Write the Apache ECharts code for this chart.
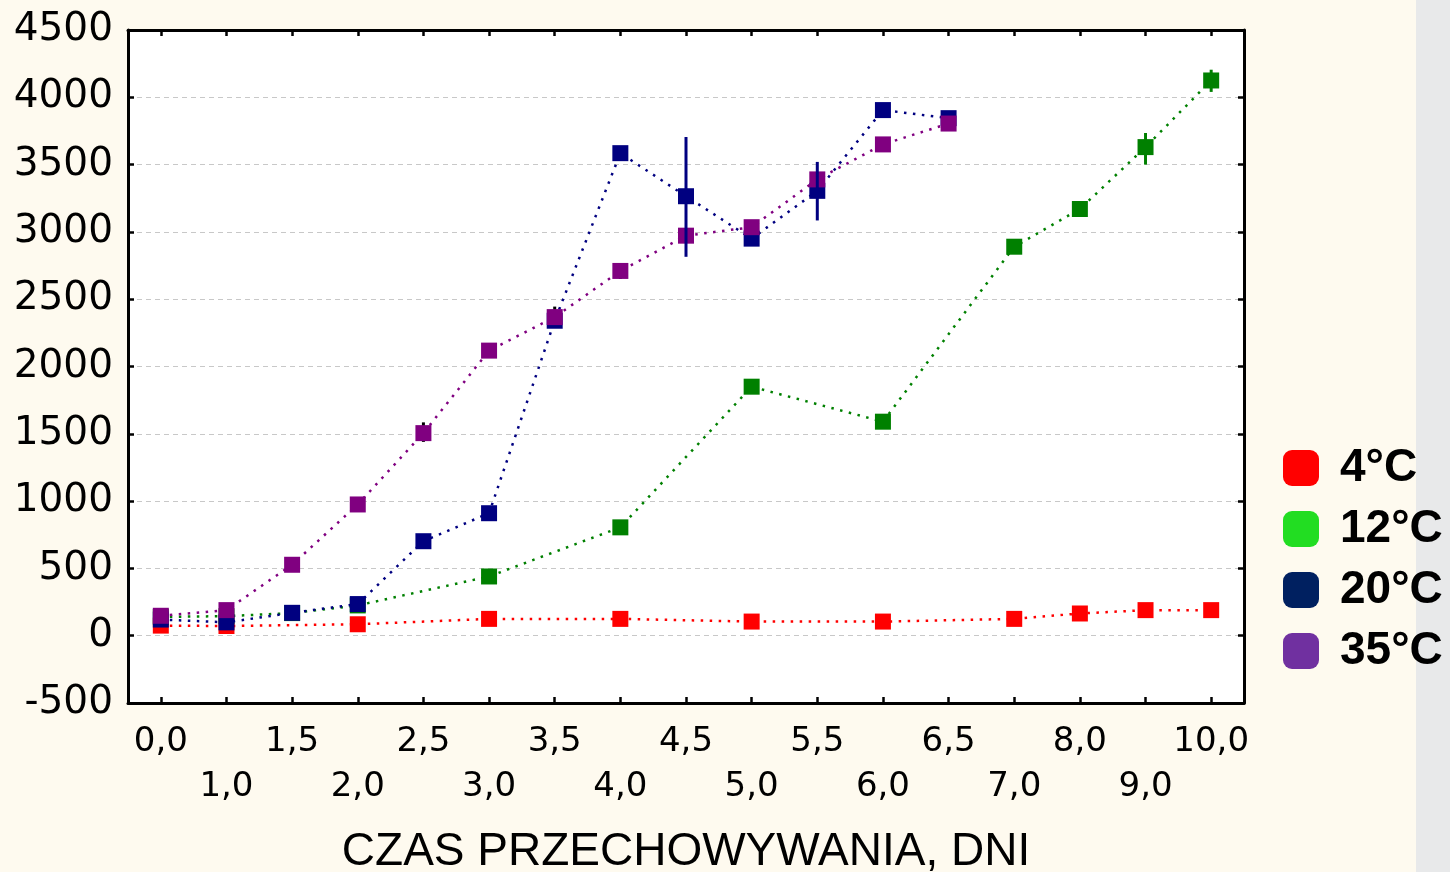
<!DOCTYPE html>
<html>
<head>
<meta charset="utf-8">
<script src="https://cdn.jsdelivr.net/npm/echarts@6/dist/echarts.min.js"></script>
<style>
html,body{margin:0;padding:0;background:#FEFAEF;}
#chart{width:1450px;height:872px;}
</style>
</head>
<body>
<div id="chart"></div>
<script>
// Categories (storage time, days)
const categories = ['0,0','1,0','1,5','2,0','2,5','3,0','3,5','4,0','4,5','5,0','5,5','6,0','6,5','7,0','8,0','9,0','10,0'];
const yTicks = [-500, 4500, 500]; // min, max, step

// Series values (null = no measurement)
const t4  = [75, 72, null, 85, null, 125, null, 125, null, 105, null, 105, null, 125, 165, 190, 190];
const t12 = [140, 145, 168, 225, null, 440, null, 805, null, 1850, null, 1590, null, 2890, 3170, 3630, 4125];
const t20 = [120, 99, 170, 235, 702, 910, 2340, 3585, 3265, 2950, 3305, 3905, 3845, null, null, null, null];
const t35 = [148, 190, 527, 975, 1505, 2118, 2367, 2710, 2972, 3035, 3390, 3650, 3805, null, null, null, null];

// Error bars: category, low, high
const err20Cat  = ['4,5', '5,5'];
const err20Low  = [2815, 3085];
const err20High = [3705, 3520];
const err12Cat  = ['9,0', '10,0'];
const err12Low  = [3500, 4040];
const err12High = [3735, 4205];
const err35Cat  = ['2,0', '2,5', '3,5', '4,0'];
const err35Low  = [930, 1440, 2290, 2650];
const err35High = [1025, 1585, 2445, 2765];

const seriesNames = ['4°C', '12°C', '20°C', '35°C'];
const lineColors = ['#FF0000', '#008000', '#000080', '#800080'];
const legendColors = ['#FF0000', '#22DD22', '#002060', '#7030A0'];

function errData(cats, lows, highs) {
  return cats.map((c, i) => [categories.indexOf(c), lows[i], highs[i]]);
}

function errSeries(cats, lows, highs, color, z) {
  return {
    type: 'custom',
    xAxisIndex: 0, yAxisIndex: 0,
    z: z,
    silent: true,
    data: errData(cats, lows, highs),
    renderItem: function (params, api) {
      const x = api.value(0);
      const p1 = api.coord([x, api.value(1)]);
      const p2 = api.coord([x, api.value(2)]);
      return {
        type: 'line',
        shape: { x1: p1[0], y1: p1[1], x2: p2[0], y2: p2[1] },
        style: { stroke: color, lineWidth: 3 }
      };
    }
  };
}

const chart = echarts.init(document.getElementById('chart'));

const values = [t4, t12, t20, t35];
const lineSeries = values.map((arr, i) => ({
  name: seriesNames[i],
  type: 'line',
  data: arr,
  connectNulls: true,
  symbol: 'rect',
  symbolSize: 16,
  z: 2 + i,
  itemStyle: { color: lineColors[i] },
  lineStyle: { color: lineColors[i], width: 2.5, type: [2.5, 6.5] }
}));

const axisLineStyle = { show: true, onZero: false, lineStyle: { color: '#000', width: 3 } };
const tickStyle = { color: '#000', width: 2.5 };

const option = {
  animation: false,
  backgroundColor: '#FEFAEF',
  graphic: [{
    type: 'rect',
    z: -100,
    shape: { x: 1416, y: 0, width: 34, height: 872 },
    style: { fill: '#E8E9EA' }
  }],
  grid: {
    left: 128, right: 206, top: 30, bottom: 169,
    containLabel: false,
    outerBoundsMode: 'none',
    show: true, backgroundColor: '#FFFFFF', borderWidth: 0
  },
  legend: {
    orient: 'vertical',
    left: 1278, top: 435,
    itemWidth: 36, itemHeight: 36, itemGap: 5,
    icon: 'roundRect',
    data: seriesNames.map((n, i) => ({ name: n, icon: 'roundRect', itemStyle: { color: legendColors[i] } })),
    textStyle: {
      fontFamily: 'Liberation Sans', fontWeight: 'bold', fontSize: 46, color: '#000',
      lineHeight: 36, padding: [20, 0, 0, 16]
    }
  },
  xAxis: [{
    type: 'category',
    data: categories,
    position: 'bottom',
    boundaryGap: true,
    axisLine: axisLineStyle,
    axisTick: { show: true, inside: true, alignWithLabel: true, length: 6, lineStyle: tickStyle },
    axisLabel: {
      interval: 0, margin: 17,
      fontFamily: 'DejaVu Sans', fontSize: 34, color: '#000', lineHeight: 45,
      formatter: function (v, i) { return i % 2 ? '\n' + v : v; }
    },
    splitLine: { show: false },
    name: 'CZAS PRZECHOWYWANIA, DNI',
    nameLocation: 'middle',
    nameGap: 126,
    nameTextStyle: { fontFamily: 'Liberation Sans', fontSize: 46, color: '#000' }
  }, {
    type: 'category',
    data: categories,
    position: 'top',
    boundaryGap: true,
    axisLine: axisLineStyle,
    axisTick: { show: true, inside: true, alignWithLabel: true, length: 6, lineStyle: tickStyle },
    axisLabel: { show: false },
    splitLine: { show: false }
  }],
  yAxis: [{
    type: 'value',
    min: yTicks[0], max: yTicks[1], interval: yTicks[2],
    position: 'left',
    axisLine: axisLineStyle,
    axisTick: { show: true, inside: true, length: 6, lineStyle: tickStyle },
    axisLabel: {
      margin: 15, fontFamily: 'DejaVu Sans', fontSize: 39, color: '#000',
      formatter: function (v) { return String(v); }
    },
    splitLine: { show: true, lineStyle: { color: '#C8C8C8', width: 1, type: [5, 4] } }
  }, {
    type: 'value',
    min: yTicks[0], max: yTicks[1], interval: yTicks[2],
    position: 'right',
    axisLine: axisLineStyle,
    axisTick: { show: true, inside: true, length: 6, lineStyle: tickStyle },
    axisLabel: { show: false },
    splitLine: { show: false }
  }],
  series: lineSeries.concat([
    errSeries(err35Cat, err35Low, err35High, '#000000', 1),
    errSeries(err12Cat, err12Low, err12High, '#008000', 10),
    errSeries(err20Cat, err20Low, err20High, '#000080', 10)
  ])
};

chart.setOption(option);
</script>
</body>
</html>
